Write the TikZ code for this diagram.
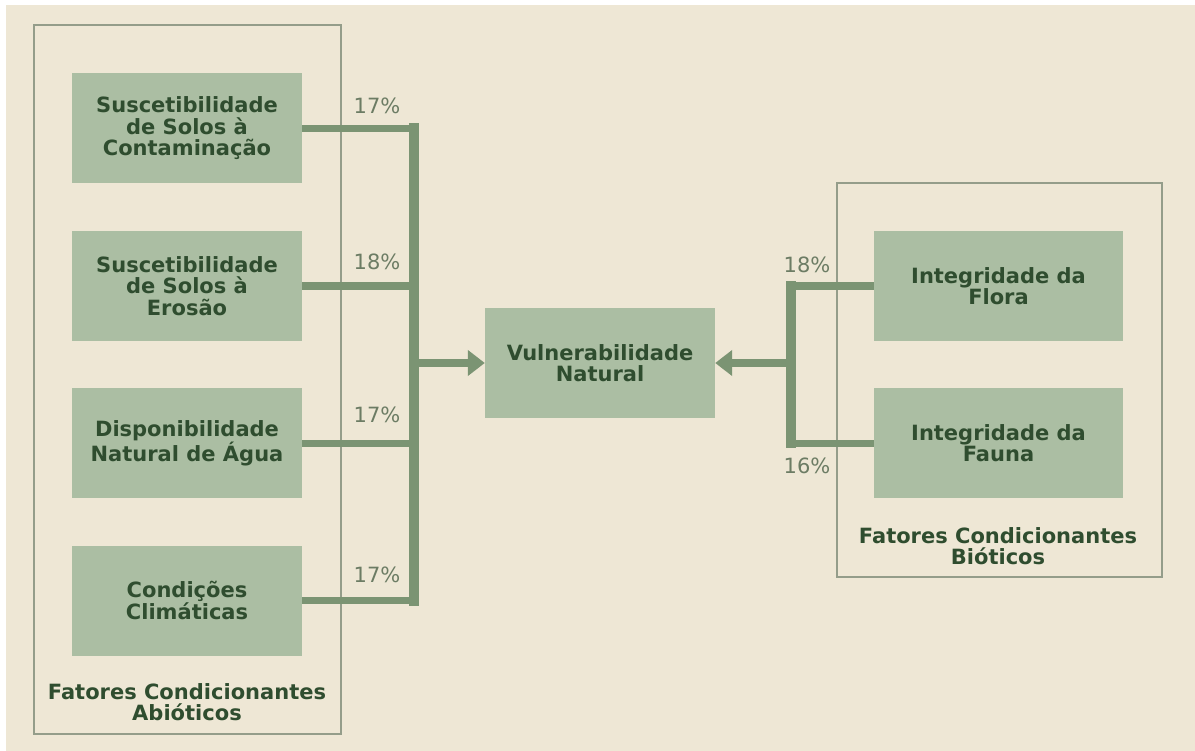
\documentclass[tikz,border=0pt]{standalone}
\usepackage{fontspec}
\setmainfont{DejaVu Sans}
\usetikzlibrary{positioning, arrows.meta}
\definecolor{cream}{HTML}{EEE7D5}
\definecolor{sage}{HTML}{ABBEA3}
\definecolor{leaf}{HTML}{2F4D2F}
\definecolor{stem}{HTML}{7B9473}
\definecolor{rim}{HTML}{949D8A}
\definecolor{pct}{HTML}{6C7C64}
\tikzset{x=1pt, y=-1pt,
         factor/.style={fill=sage, text=leaf, align=center,
                        font=\bfseries\fontsize{21}{21.5}\selectfont,
                        minimum width=230pt, minimum height=110pt, inner sep=0pt},
         group/.style={draw=rim, line width=1.4pt},
         grouplabel/.style={text=leaf, align=center, font=\bfseries\fontsize{21}{21.5}\selectfont},
         weight/.style={text=pct, font=\fontsize{21}{21}\selectfont},
         link/.style={draw=stem, line width=7.5pt},
         bar/.style={draw=stem, line width=10pt, line cap=rect},
         feed/.style={draw=stem, line width=7.5pt, -{Triangle[length=17pt, width=25pt]}},
         }

\begin{document}
\begin{tikzpicture}
    \useasboundingbox (0,0) rectangle (1195,751);
    \fill[white] (0,0) rectangle (1195,751);
    \fill[cream] (6,5) rectangle (1195,751);

    % groups
    \draw[group] (34,25) rectangle (341,734);
    \draw[group] (837,183) rectangle (1162,577);

    % factors
    \node[factor] (solocont) at (187,128.5) {Suscetibilidade\\de Solos à\\Contaminação};
    \node[factor, below=47pt of solocont] (soloeros) {Suscetibilidade\\de Solos à\\Erosão};
    \node[factor, below=47pt of soloeros] (agua) {Disponibilidade\\Natural de Água};
    \node[factor, below=47pt of agua] (clima) {Condições\\Climáticas};
    \node[factor] (vuln) at (600,363) {Vulnerabilidade\\Natural};
    \node[factor, minimum width=249pt] (flora) at (998.5,286) {Integridade da\\Flora};
    \node[factor, minimum width=249pt, below=47pt of flora] (fauna) {Integridade da\\Fauna};

    \node[grouplabel] (abiot) at (187,702) {Fatores Condicionantes\\Abióticos};
    \node[grouplabel] (biot) at (998,546) {Fatores Condicionantes\\Bióticos};

    % connectors
    \coordinate (jl) at (414,363);
    \coordinate (jr) at (791,363);
    \foreach \f in {solocont, soloeros, agua, clima}
        \draw[link] (\f.east) -- (\f.east -| jl);
    \draw[bar] (jl |- solocont.east) -- (jl |- clima.east);
    \foreach \f in {flora, fauna}
        \draw[link] (\f.west) -- (\f.west -| jr);
    \draw[bar] (jr |- flora.west) -- (jr |- fauna.west);
    \draw[feed] (jl) -- (vuln.west);
    \draw[feed] (jr) -- (vuln.east);

    % weights
    \node[weight] (w1) at (377,106) {17\%};
    \node[weight] (w2) at (377,262) {18\%};
    \node[weight] (w3) at (377,415) {17\%};
    \node[weight] (w4) at (377,575) {17\%};
    \node[weight] (w5) at (807,265) {18\%};
    \node[weight] (w6) at (807,466) {16\%};
\end{tikzpicture}
\end{document}
